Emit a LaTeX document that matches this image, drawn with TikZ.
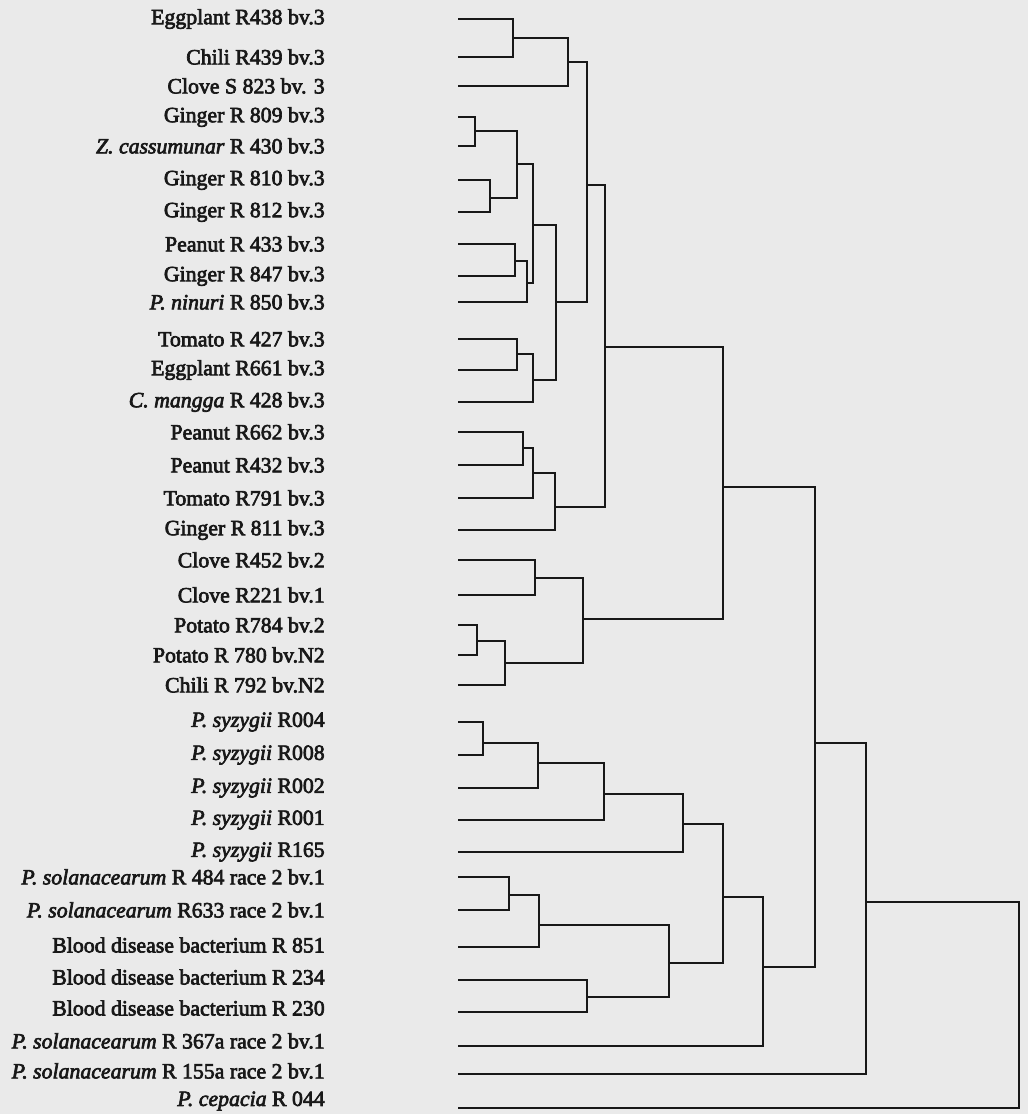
\documentclass[tikz,border=0pt]{standalone}
\usepackage{fontspec}
\setmainfont{Liberation Serif}[FakeBold=3]
\definecolor{paper}{RGB}{234,234,234}
\definecolor{ink}{RGB}{24,24,24}

\begin{document}
\begin{tikzpicture}[x=0.025cm, y=-0.025cm,
    every node/.style={font=\fontsize{15.5}{18}\selectfont, text=ink, anchor=east, inner sep=0pt},
    link/.style={draw=ink, line width=1.6pt}]
  \fill[paper] (0,0) rectangle (1028,1114);
  \useasboundingbox (0,0) rectangle (1028,1114);
  \node (T1) at (325,19) {Eggplant R438 bv.3};     \coordinate (S1) at (458,19);
  \node (T2) at (325,57) {Chili R439 bv.3};        \coordinate (S2) at (458,57);
  \node (T3) at (325,86) {Clove S 823 bv. 3};      \coordinate (S3) at (458,86);
  \node (T4) at (325,117) {Ginger R 809 bv.3};     \coordinate (S4) at (458,117);
  \node (T5) at (325,146) {\textit{Z. cassumunar} R 430 bv.3}; \coordinate (S5) at (458,146);
  \node (T6) at (325,180) {Ginger R 810 bv.3};     \coordinate (S6) at (458,180);
  \node (T7) at (325,212) {Ginger R 812 bv.3};     \coordinate (S7) at (458,212);
  \node (T8) at (325,244) {Peanut R 433 bv.3};     \coordinate (S8) at (458,244);
  \node (T9) at (325,276) {Ginger R 847 bv.3};     \coordinate (S9) at (458,276);
  \node (T10) at (325,302) {\textit{P. ninuri} R 850 bv.3}; \coordinate (S10) at (458,302);
  \node (T11) at (325,339) {Tomato R 427 bv.3};    \coordinate (S11) at (458,339);
  \node (T12) at (325,370) {Eggplant R661 bv.3};   \coordinate (S12) at (458,370);
  \node (T13) at (325,402) {\textit{C. mangga} R 428 bv.3}; \coordinate (S13) at (458,402);
  \node (T14) at (325,432) {Peanut R662 bv.3};     \coordinate (S14) at (458,432);
  \node (T15) at (325,465) {Peanut R432 bv.3};     \coordinate (S15) at (458,465);
  \node (T16) at (325,498) {Tomato R791 bv.3};     \coordinate (S16) at (458,498);
  \node (T17) at (325,530) {Ginger R 811 bv.3};    \coordinate (S17) at (458,530);
  \node (T18) at (325,560) {Clove R452 bv.2};      \coordinate (S18) at (458,560);
  \node (T19) at (325,595) {Clove R221 bv.1};      \coordinate (S19) at (458,595);
  \node (T20) at (325,625) {Potato R784 bv.2};     \coordinate (S20) at (458,625);
  \node (T21) at (325,655) {Potato R 780 bv.N2};   \coordinate (S21) at (458,655);
  \node (T22) at (325,685) {Chili R 792 bv.N2};    \coordinate (S22) at (458,685);
  \node (T23) at (325,722) {\textit{P. syzygii} R004}; \coordinate (S23) at (458,722);
  \node (T24) at (325,755) {\textit{P. syzygii} R008}; \coordinate (S24) at (458,755);
  \node (T25) at (325,788) {\textit{P. syzygii} R002}; \coordinate (S25) at (458,788);
  \node (T26) at (325,820) {\textit{P. syzygii} R001}; \coordinate (S26) at (458,820);
  \node (T27) at (325,852) {\textit{P. syzygii} R165}; \coordinate (S27) at (458,852);
  \node (T28) at (325,877) {\textit{P. solanacearum} R 484 race 2 bv.1}; \coordinate (S28) at (458,877);
  \node (T29) at (325,910) {\textit{P. solanacearum} R633 race 2 bv.1};  \coordinate (S29) at (458,910);
  \node (T30) at (325,945) {Blood disease bacterium R 851}; \coordinate (S30) at (458,947);
  \node (T31) at (325,977) {Blood disease bacterium R 234}; \coordinate (S31) at (458,980);
  \node (T32) at (325,1008) {Blood disease bacterium R 230}; \coordinate (S32) at (458,1012);
  \node (T33) at (325,1041) {\textit{P. solanacearum} R 367a race 2 bv.1}; \coordinate (S33) at (458,1046);
  \node (T34) at (325,1071) {\textit{P. solanacearum} R 155a race 2 bv.1}; \coordinate (S34) at (458,1074);
  \node (T35) at (325,1101) {\textit{P. cepacia} R 044}; \coordinate (S35) at (458,1108);

  \coordinate (J1) at (513,38);   \coordinate (J2) at (568,62);
  \coordinate (J3) at (475,131);  \coordinate (J4) at (490,198);
  \coordinate (J5) at (517,164);  \coordinate (J6) at (515,261);
  \coordinate (J7) at (527,283);  \coordinate (J8) at (533,225);
  \coordinate (J9) at (517,354);  \coordinate (J10) at (533,380);
  \coordinate (J11) at (556,302); \coordinate (J12) at (587,185);
  \coordinate (J13) at (523,448); \coordinate (J14) at (533,473);
  \coordinate (J15) at (555,507); \coordinate (J16) at (605,347);
  \coordinate (J17) at (535,578); \coordinate (J18) at (477,641);
  \coordinate (J19) at (505,663); \coordinate (J20) at (583,619);
  \coordinate (J21) at (723,487); \coordinate (J22) at (483,743);
  \coordinate (J23) at (538,763); \coordinate (J24) at (604,794);
  \coordinate (J25) at (683,824); \coordinate (J26) at (509,895);
  \coordinate (J27) at (539,925); \coordinate (J28) at (587,997);
  \coordinate (J29) at (669,963); \coordinate (J30) at (723,897);
  \coordinate (J31) at (763,967); \coordinate (J32) at (815,743);
  \coordinate (J33) at (866,902); \coordinate (J34) at (1019,902);

  \draw[link] (S1) -| (J1) |- (S2);
  \draw[link] (J1) -| (J2) |- (S3);
  \draw[link] (S4) -| (J3) |- (S5);
  \draw[link] (S6) -| (J4) |- (S7);
  \draw[link] (J3) -| (J5) |- (J4);
  \draw[link] (S8) -| (J6) |- (S9);
  \draw[link] (J6) -| (J7) |- (S10);
  \draw[link] (J5) -| (J8) |- (J7);
  \draw[link] (S11) -| (J9) |- (S12);
  \draw[link] (J9) -| (J10) |- (S13);
  \draw[link] (J8) -| (J11) |- (J10);
  \draw[link] (J2) -| (J12) |- (J11);
  \draw[link] (S14) -| (J13) |- (S15);
  \draw[link] (J13) -| (J14) |- (S16);
  \draw[link] (J14) -| (J15) |- (S17);
  \draw[link] (J12) -| (J16) |- (J15);
  \draw[link] (S18) -| (J17) |- (S19);
  \draw[link] (S20) -| (J18) |- (S21);
  \draw[link] (J18) -| (J19) |- (S22);
  \draw[link] (J17) -| (J20) |- (J19);
  \draw[link] (J16) -| (J21) |- (J20);
  \draw[link] (S23) -| (J22) |- (S24);
  \draw[link] (J22) -| (J23) |- (S25);
  \draw[link] (J23) -| (J24) |- (S26);
  \draw[link] (J24) -| (J25) |- (S27);
  \draw[link] (S28) -| (J26) |- (S29);
  \draw[link] (J26) -| (J27) |- (S30);
  \draw[link] (S31) -| (J28) |- (S32);
  \draw[link] (J27) -| (J29) |- (J28);
  \draw[link] (J25) -| (J30) |- (J29);
  \draw[link] (J30) -| (J31) |- (S33);
  \draw[link] (J21) -| (J32) |- (J31);
  \draw[link] (J32) -| (J33) |- (S34);
  \draw[link] (J33) -| (J34) |- (S35);
\end{tikzpicture}
\end{document}
